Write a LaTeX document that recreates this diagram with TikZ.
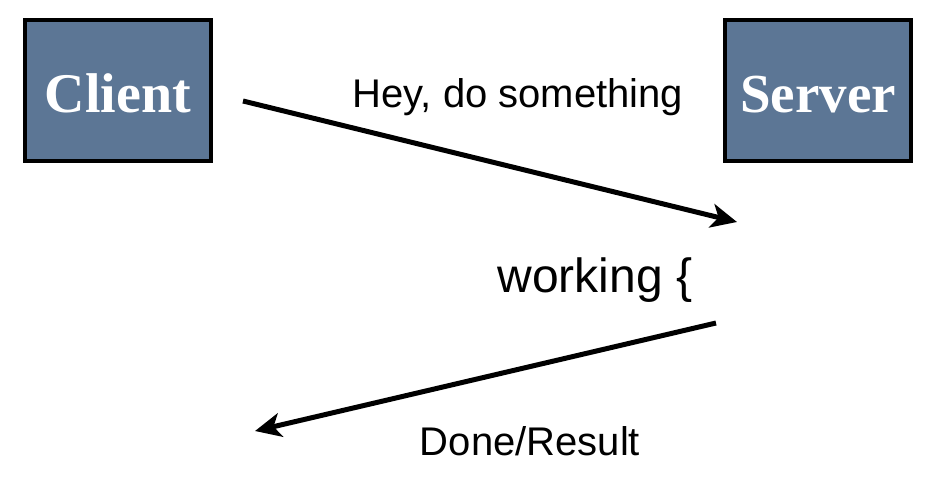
\documentclass[tikz,border=0pt]{standalone}
\usepackage{fontspec}
\setmainfont{Liberation Serif}
\newfontfamily\arial{Liberation Sans}
\usetikzlibrary{arrows.meta}
\definecolor{boxblue}{HTML}{5C7695}
\tikzset{
  actor/.style={draw=black, line width=4pt, fill=boxblue, minimum width=186pt, minimum height=141pt, inner sep=0pt,
    text=white, font=\fontsize{55}{60}\selectfont\bfseries},
  msg/.style={-{Stealth[length=26pt,width=24pt,inset=7pt]}, line width=5pt, black},
  lbl/.style={anchor=base, font=\arial\fontsize{40}{44}\selectfont, text=black, inner sep=0pt}
}
\begin{document}
\begin{tikzpicture}[x=1pt,y=-1pt]
\useasboundingbox[fill=white] (0,0) rectangle (931,479);
\node[actor] (client) at (118,90.5) {};
\node[anchor=base, text=white, font=\fontsize{56}{60}\selectfont\bfseries, inner sep=0pt] (clientlbl) at (118,112) {Client};
\node[actor] (server) at (818,90.5) {};
\node[anchor=base, text=white, font=\fontsize{55}{60}\selectfont\bfseries, inner sep=0pt] (serverlbl) at (818,112) {Server};
\coordinate (a1s) at (243,101);
\coordinate (a1e) at (737,222);
\coordinate (a2s) at (716,323);
\coordinate (a2e) at (255,431);
\draw[msg] (a1s) -- (a1e);
\draw[msg] (a2s) -- (a2e);
\node[lbl] (req) at (518,107) {Hey, do something};
\node[lbl, font=\arial\fontsize{48}{52}\selectfont] (work) at (595,292) {working \{};
\node[lbl] (res) at (530,455) {Done/Result};
\end{tikzpicture}
\end{document}
